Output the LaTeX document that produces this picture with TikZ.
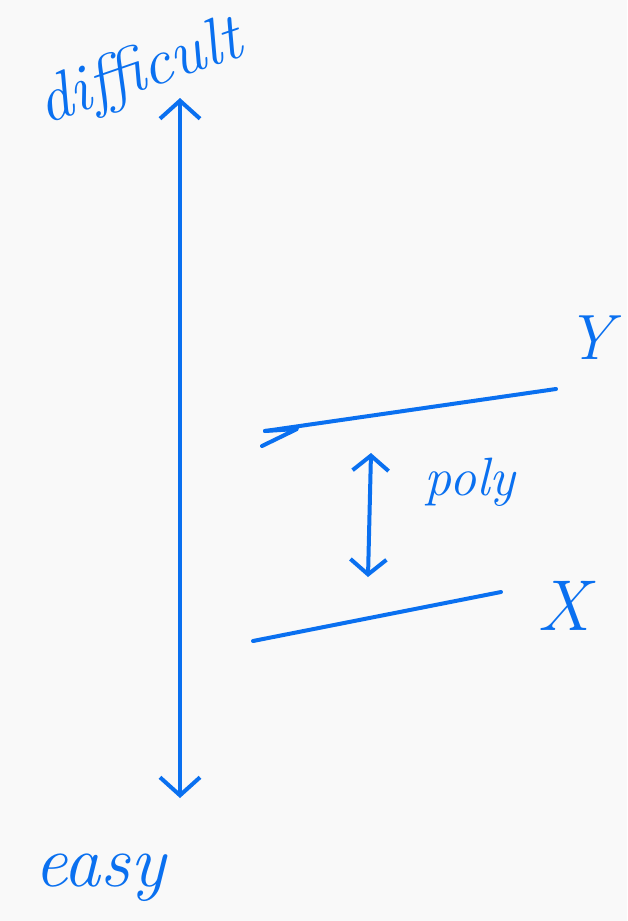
\documentclass[tikz,border=0pt]{standalone}
\usetikzlibrary{arrows.meta}
\definecolor{ink}{RGB}{10,112,240}
\definecolor{bg}{RGB}{249,249,249}
\tikzset{
  pen/.style={draw=ink, line width=4pt, line cap=round, line join=round},
  hand/.style={text=ink, font=\itshape, inner sep=0pt},
  barbtip/.tip={Straight Barb[length=18pt, width=40pt, line width=4pt]},
  smallbarbtip/.tip={Straight Barb[length=15pt, width=36pt, line width=4pt]}
}
\begin{document}
\begin{tikzpicture}[x=1pt, y=-1pt]
  \fill[bg] (0,0) rectangle (627,921);
  \useasboundingbox (0,0) rectangle (627,921);

  % labels
  \node[hand, rotate=19, font=\itshape\fontsize{66}{66}\selectfont] (difficult) at (140,74) {difficult};
  \node[hand, font=\itshape\fontsize{74}{74}\selectfont] (easy) at (100,878) {easy};
  \node[hand, font=\itshape\fontsize{64}{64}\selectfont] (Y) at (590,338) {Y};
  \node[hand, font=\itshape\fontsize{72}{72}\selectfont] (X) at (564,606) {X};
  \node[hand, font=\itshape\fontsize{54}{54}\selectfont] (poly) at (470,482) {poly};

  % vertical scale
  \coordinate (top) at (180,98);
  \coordinate (bottom) at (180,798);
  \draw[pen, barbtip-barbtip] (top) -- (bottom);

  % Y line
  \coordinate (Ya) at (265,431);
  \coordinate (Yb) at (556,389);
  \coordinate (Yh) at (262,446);
  \coordinate (Yk) at (297,429);
  \draw[pen] (Ya) -- (Yb);
  \draw[pen] (Ya) -- (Yk) -- (Yh);

  % X line
  \coordinate (Xa) at (253,641);
  \coordinate (Xb) at (501,592);
  \draw[pen] (Xa) -- (Xb);

  % poly reduction arrow
  \coordinate (pa) at (371,453);
  \coordinate (pb) at (368,577);
  \draw[pen, smallbarbtip-smallbarbtip] (pa) -- (pb);
\end{tikzpicture}
\end{document}
